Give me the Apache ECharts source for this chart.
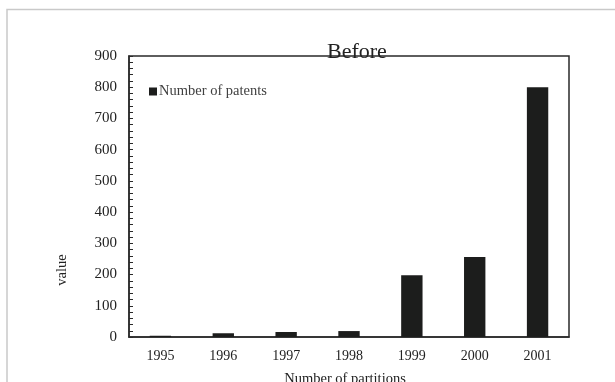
<!DOCTYPE html>
<html>
<head>
<meta charset="utf-8">
<script src="https://cdn.jsdelivr.net/npm/echarts@6/dist/echarts.min.js"></script>
<style>
  html, body { margin: 0; padding: 0; background: #fff; }
  #chart { width: 615px; height: 382px; }
</style>
</head>
<body>
<div id="chart"></div>
<script>
// Patent counts per year
const years = ['1995', '1996', '1997', '1998', '1999', '2000', '2001'];
const patents = [4, 12, 16, 19, 198, 256, 800];
const yTicks = { min: 0, max: 900, interval: 100 };

const serif = '"Liberation Serif", "Times New Roman", serif';
const chart = echarts.init(document.getElementById('chart'));

chart.setOption({
  animation: false,
  backgroundColor: '#ffffff',
  title: {
    text: 'Before',
    left: 322,
    top: 36,
    textStyle: { fontFamily: serif, fontSize: 22, fontWeight: 'normal', color: '#222' }
  },
  legend: {
    data: ['Number of patents'],
    left: 149,
    top: 84,
    padding: 0,
    icon: 'rect',
    itemWidth: 8,
    itemHeight: 8,
    textStyle: { fontFamily: serif, fontSize: 14.5, color: '#404040', padding: [0, 0, 0, -3] }
  },
  grid: {
    left: 129, right: 46, top: 56, bottom: 45,
    outerBoundsMode: 'none',
    containLabel: false,
    show: true, borderColor: '#2a2a2a', borderWidth: 1.5, backgroundColor: 'transparent'
  },
  xAxis: {
    type: 'category',
    data: years,
    name: 'Number of partitions',
    nameLocation: 'middle',
    nameGap: 35,
    nameTextStyle: { fontFamily: serif, fontSize: 14.5, color: '#222', padding: [0, 8, 0, 0] },
    axisLine: { lineStyle: { color: '#2a2a2a', width: 1.5 } },
    axisTick: { show: false },
    axisLabel: { fontFamily: serif, fontSize: 14, color: '#222', margin: 12 }
  },
  yAxis: {
    type: 'value',
    min: yTicks.min,
    max: yTicks.max,
    interval: yTicks.interval,
    axisLine: { show: true, lineStyle: { color: '#2a2a2a', width: 1.5 } },
    axisTick: { show: true, inside: true, length: 4, lineStyle: { color: '#2a2a2a' } },
    minorTick: { show: true, splitNumber: 5, length: 4, lineStyle: { color: '#2a2a2a' } },
    splitLine: { show: false },
    axisLabel: { fontFamily: serif, fontSize: 15, color: '#222', margin: 12 }
  },
  series: [{
    name: 'Number of patents',
    type: 'bar',
    data: patents,
    barWidth: '34%',
    itemStyle: { color: '#1c1d1c' }
  }],
  graphic: [
    {
      type: 'rect',
      shape: { x: 7, y: 9.5, width: 800, height: 600 },
      style: { fill: 'none', stroke: '#c9c9c9', lineWidth: 1.5 },
      silent: true
    },
    {
      type: 'text',
      x: 62,
      y: 270,
      rotation: Math.PI / 2,
      style: {
        text: 'value',
        fontFamily: serif,
        fontSize: 14.5,
        fill: '#222',
        textAlign: 'center',
        textVerticalAlign: 'middle'
      }
    }
  ]
});
</script>
</body>
</html>
